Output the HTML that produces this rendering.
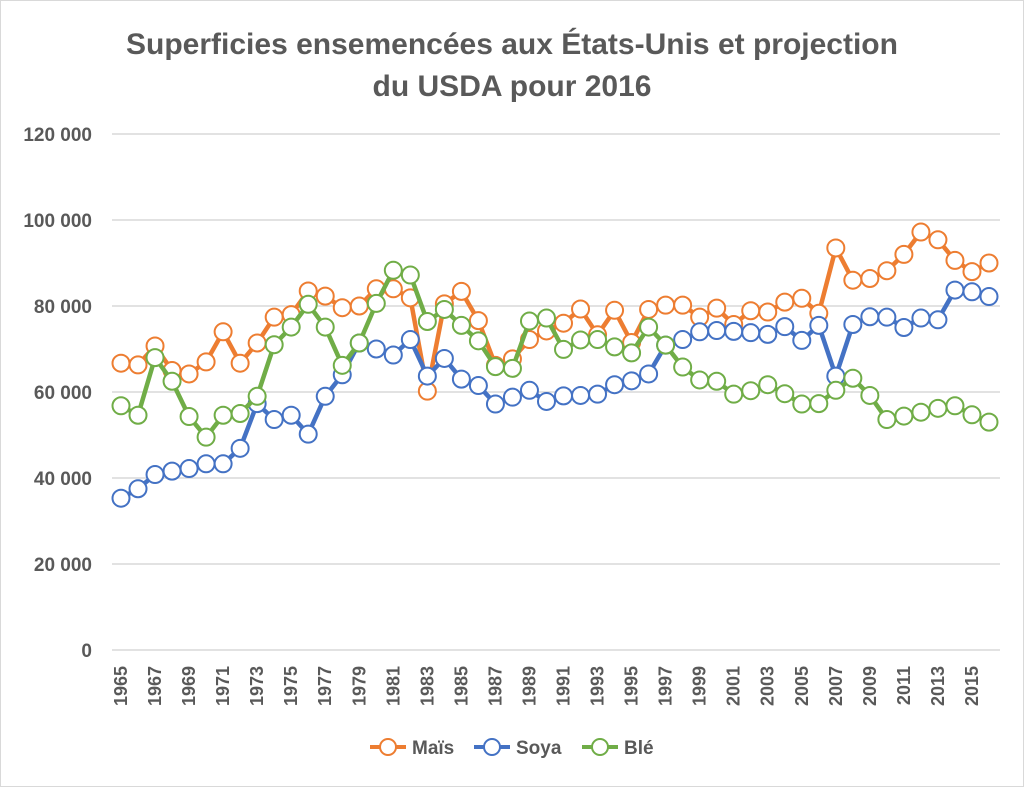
<!DOCTYPE html>
<html><head><meta charset="utf-8"><style>
body{margin:0;background:#fff;}
svg{display:block;font-family:"Liberation Sans",Arial,sans-serif;}
</style></head><body>
<svg id="chart" width="1024" height="787" viewBox="0 0 1024 787">
<rect x="0.5" y="0.5" width="1023" height="786" fill="#fff" stroke="#d9d9d9"/>
<text x="512" y="54" text-anchor="middle" font-size="30" font-weight="bold" fill="#595959">Superficies ensemencées aux États-Unis et projection</text>
<text x="512" y="96" text-anchor="middle" font-size="30" font-weight="bold" fill="#595959">du USDA pour 2016</text>
<g id="grid"></g><g id="series"></g><g id="xlabels"></g><g id="ylabels"></g>
<g>
<g><line x1="370" y1="747" x2="406" y2="747" stroke="#ed7d31" stroke-width="4"/><circle cx="388" cy="747" r="8" fill="#fff" stroke="#ed7d31" stroke-width="2"/><text x="412" y="754" font-size="19" font-weight="bold" fill="#595959">Maïs</text></g>
<g><line x1="474" y1="747" x2="510" y2="747" stroke="#4472c4" stroke-width="4"/><circle cx="492" cy="747" r="8" fill="#fff" stroke="#4472c4" stroke-width="2"/><text x="516" y="754" font-size="19" font-weight="bold" fill="#595959">Soya</text></g>
<g><line x1="582" y1="747" x2="618" y2="747" stroke="#70ad47" stroke-width="4"/><circle cx="600" cy="747" r="8" fill="#fff" stroke="#70ad47" stroke-width="2"/><text x="624" y="754" font-size="19" font-weight="bold" fill="#595959">Blé</text></g>
</g>
</svg>
<script>
const years=[];for(let y=1965;y<=2016;y++)years.push(y);
const yTicks=[0,20000,40000,60000,80000,100000,120000];
const yTickLabels=["0","20 000","40 000","60 000","80 000","100 000","120 000"];
const mais=[66.7,66.3,70.7,65,64.2,67,74,66.7,71.4,77.4,78,83.5,82.3,79.6,80,84,84,81.9,60.2,80.5,83.4,76.6,66.2,67.7,72.2,74.2,76,79.3,73.3,79,71.5,79.2,80.2,80.2,77.4,79.5,75.7,78.9,78.6,80.9,81.8,78.3,93.5,86,86.4,88.2,92,97.2,95.4,90.6,88,90];
const soya=[35.3,37.5,40.8,41.6,42.2,43.3,43.3,46.9,57.3,53.6,54.6,50.2,59,64,71.4,70,68.6,72.2,63.7,67.8,63,61.5,57.2,58.8,60.4,57.8,59.1,59.2,59.5,61.7,62.6,64.2,70.9,72.2,74,74.3,74.1,73.8,73.4,75.2,72,75.5,63.7,75.7,77.5,77.4,75,77.2,76.8,83.7,83.3,82.2];
const ble=[56.8,54.6,68,62.5,54.3,49.5,54.6,55,59,71,75.1,80.4,75.1,66.2,71.4,80.6,88.3,87.2,76.4,79.2,75.5,71.9,65.9,65.5,76.5,77.2,69.9,72.1,72.2,70.5,69.1,75.1,70.9,65.8,62.8,62.5,59.5,60.3,61.7,59.6,57.2,57.3,60.4,63.2,59.2,53.6,54.4,55.3,56.2,56.8,54.7,53];
const NS="http://www.w3.org/2000/svg";
const X0=121,X1=989,Y0=650,Y1=134;
function xs(i){return X0+(X1-X0)*i/(years.length-1);}
function ys(v){return Y0-(Y0-Y1)*v/120000;}
function mk(tag,attrs,parent){const e=document.createElementNS(NS,tag);for(const k in attrs)e.setAttribute(k,attrs[k]);parent.appendChild(e);return e;}
const grid=document.getElementById('grid'),yl=document.getElementById('ylabels'),xl=document.getElementById('xlabels'),ser=document.getElementById('series');
yTicks.forEach((t,i)=>{
 const l=mk('line',{x1:112,x2:1000,y1:ys(t),y2:ys(t),stroke:'#d9d9d9','stroke-width':1.5},grid);
 
 
 const tx=mk('text',{x:92,y:ys(t)+7,'text-anchor':'end','font-size':19,'font-weight':'bold',fill:'#595959'},yl);
 tx.textContent=yTickLabels[i];
 
 
});
years.forEach((y,i)=>{
 if(y%2===0)return;
 const x=xs(i);
 const tx=mk('text',{x:0,y:0,'text-anchor':'end','font-size':18,'font-weight':'bold',fill:'#595959',transform:`translate(${x+6},666) rotate(-90)`},xl);
 tx.textContent=y;
 
 
});
function draw(data,color,name){
 const g=mk('g',{},ser);
 
 
 const pts=data.map((v,i)=>xs(i)+','+ys(v*1000)).join(' ');
 const pl=mk('polyline',{points:pts,fill:'none',stroke:color,'stroke-width':4.5,'stroke-linejoin':'round'},g);
 
 
 data.forEach((v,i)=>{
  const c=mk('circle',{cx:xs(i),cy:ys(v*1000),r:8.5,fill:'#fff',stroke:color,'stroke-width':2},g);
  
  
 });
}
draw(mais,'#ed7d31','mais');
draw(soya,'#4472c4','soya');
draw(ble,'#70ad47','ble');
</script>
</body></html>
